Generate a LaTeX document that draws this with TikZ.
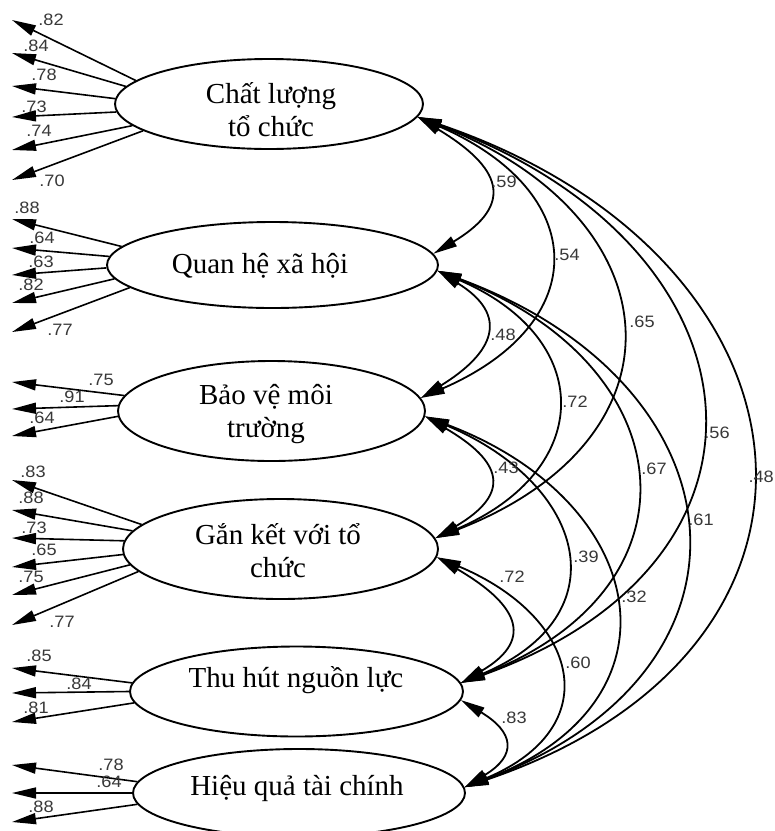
\documentclass[tikz,border=0pt]{standalone}
\usepackage{fontspec}
\setmainfont{Liberation Serif}
\newfontfamily\lblfont{Liberation Sans}
\usetikzlibrary{arrows.meta,shapes.geometric,calc}
\newcommand\lb[1]{\scalebox{1.1}[1]{#1}}
\newcommand\covarc[4]{\draw[cov] (#1) .. controls ($(#1)+(#3,#4)$) and ($(#2)+(#3,-#4)$) .. (#2);}
\begin{document}
\begin{tikzpicture}[x=1pt,y=-1pt,
  factor/.style={draw, ellipse, line width=1.9pt, inner sep=0pt},
  ftext/.style={align=center, inner sep=0pt, font=\fontsize{29}{33}\selectfont},
  ind/.style={line width=1.6pt, -{Triangle[length=24pt,width=11pt]}},
  cov/.style={line width=1.8pt, {Triangle[length=24pt,width=11pt]}-{Triangle[length=24pt,width=11pt]}},
  lbl/.style={text=black!78, font=\lblfont\fontsize{16.5}{16.5}\selectfont, inner sep=0pt}]
\useasboundingbox[fill=white] (0,0) rectangle (775,831);

% factors
\node[factor, minimum width=308pt, minimum height=90pt] (f1) at (269,104) {};
\node[factor, minimum width=331pt, minimum height=86pt] (f2) at (272.5,265) {};
\node[factor, minimum width=307pt, minimum height=100pt] (f3) at (271.5,411) {};
\node[factor, minimum width=315pt, minimum height=100pt] (f4) at (280.5,549) {};
\node[factor, minimum width=333pt, minimum height=90pt] (f5) at (296.5,691.5) {};
\node[factor, minimum width=332pt, minimum height=88pt] (f6) at (299,793) {};
\node[ftext] (x1) at (271,110) {Chất lượng\\tổ chức};
\node[ftext] (x2) at (260,266) {Quan hệ xã hội};
\node[ftext] (x3) at (266,414) {Bảo vệ môi\\trường};
\node[ftext] (x4) at (278,551) {Gắn kết với tổ\\chức};
\node[ftext] (x5) at (296,680) {Thu hút nguồn lực};
\node[ftext] (x6) at (297,788) {Hiệu quả tài chính};

% indicator arrows
\foreach \a/\y [count=\i] in {170/20,173.7/53,178/86,183.4/117,189/150,192.7/180}
  {\coordinate (ta\i) at (12,\y); \draw[ind] (f1.\a) -- (ta\i);}
\foreach \a/\y [count=\i] in {173.4/219,177.2/248,181.4/275,185.4/303,189/332}
  {\coordinate (tb\i) at (12,\y); \draw[ind] (f2.\a) -- (tb\i);}
\foreach \a/\y [count=\i] in {174.2/382,178.9/409,182.6/436}
  {\coordinate (tc\i) at (12,\y); \draw[ind] (f3.\a) -- (tc\i);}
\foreach \a/\y [count=\i] in {170.2/480,173.5/510,177.5/538,182.2/567,186/595,189.4/625}
  {\coordinate (td\i) at (12,\y); \draw[ind] (f4.\a) -- (td\i);}
\foreach \a/\y [count=\i] in {177.1/668,180.5/693,184.7/722}
  {\coordinate (te\i) at (12,\y); \draw[ind] (f5.\a) -- (te\i);}
\foreach \a/\y [count=\i] in {176.4/765,180/793,184.2/822}
  {\coordinate (tf\i) at (12,\y); \draw[ind] (f6.\a) -- (tf\i);}

% indicator labels
\node[lbl] (la1) at (51,20) {\lb{.82}};
\node[lbl] (la2) at (36,46) {\lb{.84}};
\node[lbl] (la3) at (44,75) {\lb{.78}};
\node[lbl] (la4) at (34,107) {\lb{.73}};
\node[lbl] (la5) at (39,131) {\lb{.74}};
\node[lbl] (la6) at (52,181) {\lb{.70}};
\node[lbl] (lb1) at (27,208) {\lb{.88}};
\node[lbl] (lb2) at (42,238) {\lb{.64}};
\node[lbl] (lb3) at (41,262) {\lb{.63}};
\node[lbl] (lb4) at (31,285) {\lb{.82}};
\node[lbl] (lb5) at (60,330) {\lb{.77}};
\node[lbl] (lc1) at (101,380) {\lb{.75}};
\node[lbl] (lc2) at (72,397) {\lb{.91}};
\node[lbl] (lc3) at (42,418) {\lb{.64}};
\node[lbl] (ld1) at (33,472) {\lb{.83}};
\node[lbl] (ld2) at (31,498) {\lb{.88}};
\node[lbl] (ld3) at (34,528) {\lb{.73}};
\node[lbl] (ld4) at (44,550) {\lb{.65}};
\node[lbl] (ld5) at (31,577) {\lb{.75}};
\node[lbl] (ld6) at (62,622) {\lb{.77}};
\node[lbl] (le1) at (39,656) {\lb{.85}};
\node[lbl] (le2) at (79,684) {\lb{.84}};
\node[lbl] (le3) at (36,708) {\lb{.81}};
\node[lbl] (lf1) at (111,765) {\lb{.78}};
\node[lbl] (lf2) at (109,782) {\lb{.64}};
\node[lbl] (lf3) at (41,807) {\lb{.88}};

% attachment points
\coordinate (L1) at (f1.-5);
\coordinate (U2) at (f2.4);   \coordinate (L2) at (f2.-2);
\coordinate (U3) at (f3.5);   \coordinate (L3) at (f3.-2);
\coordinate (U4) at (f4.4.5); \coordinate (L4) at (f4.-3);
\coordinate (U5) at (f5.3);   \coordinate (L5) at (f5.-3.6);
\coordinate (U6) at (f6.2);

% covariances
\covarc{L1}{U2}{83}{50}
\covarc{L1}{U3}{173}{75}
\covarc{L1}{U4}{258}{100}
\covarc{L1}{U5}{347}{125}
\covarc{L1}{U6}{411}{140}
\covarc{L2}{U3}{73}{45}
\covarc{L2}{U4}{159}{68}
\covarc{L2}{U5}{247}{95}
\covarc{L2}{U6}{311}{115}
\covarc{L3}{U4}{77}{45}
\covarc{L3}{U5}{161}{68}
\covarc{L3}{U6}{225}{85}
\covarc{L4}{U5}{77}{45}
\covarc{L4}{U6}{143}{60}
\covarc{L5}{U6}{53}{32}

% covariance labels
\node[lbl] (c12) at (504,182) {\lb{.59}};
\node[lbl] (c13) at (567,255) {\lb{.54}};
\node[lbl] (c14) at (642,322) {\lb{.65}};
\node[lbl] (c15) at (717,433) {\lb{.56}};
\node[lbl, anchor=east] (c16) at (774,477) {\lb{.48}};
\node[lbl] (c23) at (503,335) {\lb{.48}};
\node[lbl] (c24) at (575,402) {\lb{.72}};
\node[lbl] (c25) at (654,469) {\lb{.67}};
\node[lbl] (c26) at (701,520) {\lb{.61}};
\node[lbl] (c34) at (506,468) {\lb{.43}};
\node[lbl] (c35) at (586,557) {\lb{.39}};
\node[lbl] (c36) at (634,597) {\lb{.32}};
\node[lbl] (c45) at (512,577) {\lb{.72}};
\node[lbl] (c46) at (578,663) {\lb{.60}};
\node[lbl] (c56) at (514,718) {\lb{.83}};
\end{tikzpicture}
\end{document}
